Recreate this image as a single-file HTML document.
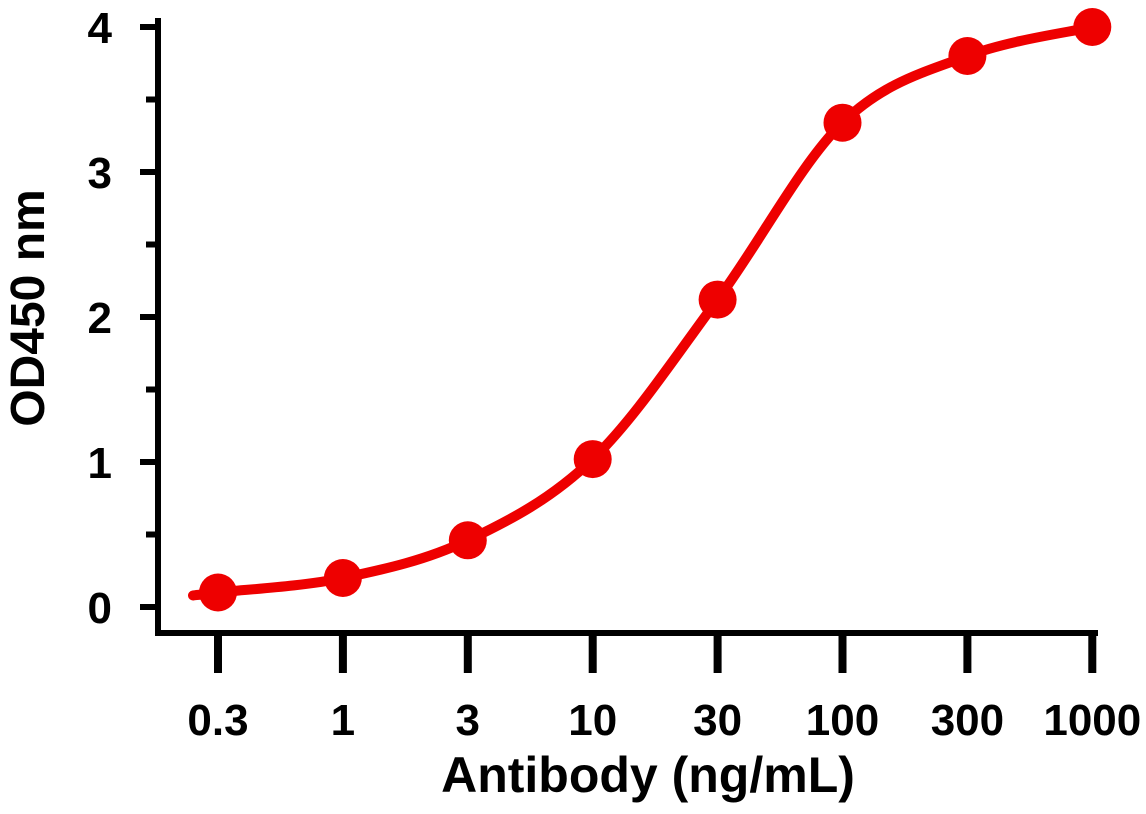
<!DOCTYPE html>
<html><head><meta charset="utf-8"><style>
html,body{margin:0;padding:0;background:#fff;}
svg{display:block;font-family:"Liberation Sans",Arial,sans-serif;font-weight:bold;}
</style></head><body>
<svg id="chart" width="1146" height="814" viewBox="0 0 1146 814" xmlns="http://www.w3.org/2000/svg">
<g id="axes"></g>
<g id="series"></g>
<text x="648" y="792" font-size="50" text-anchor="middle">Antibody (ng/mL)</text>
<text transform="translate(44,308) rotate(-90)" font-size="48" text-anchor="middle">OD450 nm</text>
</svg>
<script>
const categories = ["0.3","1","3","10","30","100","300","1000"];
const values = [0.10,0.20,0.46,1.02,2.12,3.34,3.80,4.00];
const yTicks = [0,1,2,3,4];
const yMinorTicks = [0.5,1.5,2.5,3.5];

const NS="http://www.w3.org/2000/svg";
const xPos = i => 218 + i*124.9;
const yPos = v => 607 - v*145;
function el(tag, attrs, parent){const e=document.createElementNS(NS,tag);for(const k in attrs)e.setAttribute(k,attrs[k]);parent.appendChild(e);return e;}
const axes=document.getElementById('axes'), series=document.getElementById('series');

let a=el('line',{x1:158,y1:18,x2:158,y2:636,stroke:'#000','stroke-width':6},axes);


a=el('line',{x1:155,y1:633,x2:1098,y2:633,stroke:'#000','stroke-width':6},axes);



yTicks.forEach(v=>{
  const t=el('line',{x1:140,y1:yPos(v),x2:158,y2:yPos(v),stroke:'#000','stroke-width':6},axes);
  
  
  const l=el('text',{x:112,y:yPos(v)+16,'font-size':44,'text-anchor':'end'},axes);
  l.textContent=v;
  
  
});
yMinorTicks.forEach(v=>{
  const t=el('line',{x1:146,y1:yPos(v),x2:158,y2:yPos(v),stroke:'#000','stroke-width':6},axes);
  
  
});
categories.forEach((c,i)=>{
  const t=el('line',{x1:xPos(i),y1:633,x2:xPos(i),y2:673,stroke:'#000','stroke-width':8},axes);
  
  
  const l=el('text',{x:xPos(i),y:735,'font-size':44,'text-anchor':'middle'},axes);
  l.textContent=c;
  
  
});

const pts=values.map((v,i)=>[xPos(i),yPos(v)]);
const ext=[[pts[0][0]-25, pts[0][1]+3], ...pts];
let d=`M${ext[0][0]},${ext[0][1]}`;
for(let i=0;i<ext.length-1;i++){
  const p0=ext[Math.max(0,i-1)],p1=ext[i],p2=ext[i+1],p3=ext[Math.min(ext.length-1,i+2)];
  const c1=[p1[0]+(p2[0]-p0[0])/6,p1[1]+(p2[1]-p0[1])/6];
  const c2=[p2[0]-(p3[0]-p1[0])/6,p2[1]-(p3[1]-p1[1])/6];
  d+=` C${c1[0]},${c1[1]} ${c2[0]},${c2[1]} ${p2[0]},${p2[1]}`;
}
const path=el('path',{d:d,fill:'none',stroke:'#ee0000','stroke-width':10,'stroke-linecap':'round'},series);


values.forEach((v,i)=>{
  const c=el('circle',{cx:xPos(i),cy:yPos(v),r:19,fill:'#ee0000'},series);
  
  
});
</script>
</body></html>
